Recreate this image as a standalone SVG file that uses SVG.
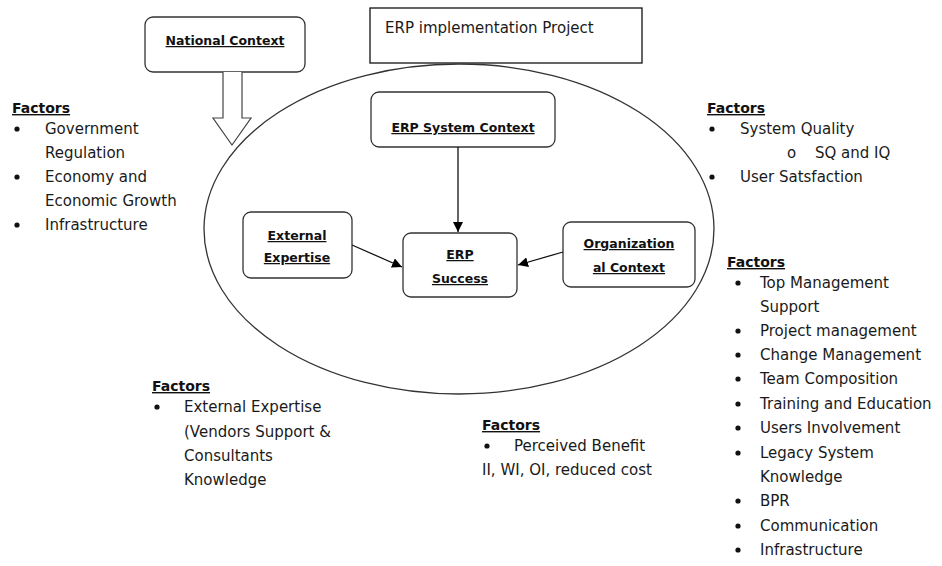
<svg xmlns="http://www.w3.org/2000/svg" width="942" height="566" viewBox="0 0 942 566">
<defs>
<marker id="ah" viewBox="0 0 10 10" refX="10" refY="5" markerWidth="10" markerHeight="10" markerUnits="userSpaceOnUse" orient="auto">
<path d="M0,0 L10,5 L0,10 z" fill="#000"/>
</marker>
<style>
.box{fill:#fff;stroke:#333;stroke-width:1.3}
.lbl{font-family:"DejaVu Sans",sans-serif;font-weight:bold;font-size:12.5px;text-decoration:underline;fill:#111;text-anchor:middle}
.t{font-family:"DejaVu Sans",sans-serif;font-size:15px;fill:#1a1a1a}
.h{font-family:"DejaVu Sans",sans-serif;font-weight:bold;font-size:14px;text-decoration:underline;fill:#111}
.b{fill:#111}
.con{stroke:#111;stroke-width:1.3;fill:none}
</style>
</defs>
<rect width="942" height="566" fill="#fff"/>

<g id="project-box">
<rect x="370" y="8" width="272" height="55" fill="#fff" stroke="#111" stroke-width="1.3"/>
<text class="t" x="385" y="33" font-size="13.5">ERP implementation Project</text>
</g>

<g id="ellipse">
<ellipse cx="459" cy="229" rx="255" ry="165" fill="none" stroke="#333" stroke-width="1.3"/>
</g>

<g id="national-context">
<rect class="box" x="145" y="17" width="160" height="55" rx="8"/>
<text class="lbl" x="225" y="45">National Context</text>
</g>

<g id="erp-system-context">
<rect class="box" x="371" y="92" width="184" height="55" rx="8"/>
<text class="lbl" x="463" y="132">ERP System Context</text>
</g>

<g id="external-expertise">
<rect class="box" x="243" y="212" width="109" height="66" rx="8"/>
<text class="lbl" x="297" y="240">External</text>
<text class="lbl" x="297" y="262">Expertise</text>
</g>

<g id="erp-success">
<rect class="box" x="403" y="233" width="114" height="64" rx="8"/>
<text class="lbl" x="460" y="259">ERP</text>
<text class="lbl" x="460" y="283">Success</text>
</g>

<g id="organizational-context">
<rect class="box" x="563" y="222" width="132" height="65" rx="8"/>
<text class="lbl" x="629" y="248">Organization</text>
<text class="lbl" x="629" y="272">al Context</text>
</g>

<g id="connectors">
<path d="M223,72 L223,118 L213,118 L232,145 L251,118 L242,118 L242,72" fill="#fff" stroke="#444" stroke-width="1.2"/>
<line class="con" x1="458" y1="147" x2="458" y2="232" marker-end="url(#ah)"/>
<line class="con" x1="352" y1="245" x2="402" y2="267" marker-end="url(#ah)"/>
<line class="con" x1="563" y1="252" x2="518" y2="265" marker-end="url(#ah)"/>
</g>

<g id="factors-national">
<text class="h" x="12" y="113">Factors</text>
<circle class="b" cx="17" cy="129" r="2.6"/>
<text class="t" x="45" y="134">Government</text>
<text class="t" x="45" y="158">Regulation</text>
<circle class="b" cx="17" cy="177" r="2.6"/>
<text class="t" x="45" y="182">Economy and</text>
<text class="t" x="45" y="206">Economic Growth</text>
<circle class="b" cx="17" cy="225" r="2.6"/>
<text class="t" x="45" y="230">Infrastructure</text>
</g>

<g id="factors-system">
<text class="h" x="707" y="113">Factors</text>
<circle class="b" cx="712" cy="129" r="2.6"/>
<text class="t" x="740" y="134">System Quality</text>
<text class="t" x="787" y="158">o</text>
<text class="t" x="815" y="158">SQ and IQ</text>
<circle class="b" cx="712" cy="177" r="2.6"/>
<text class="t" x="740" y="182">User Satsfaction</text>
</g>

<g id="factors-org">
<text class="h" x="727" y="267">Factors</text>
<circle class="b" cx="738" cy="283" r="2.6"/>
<text class="t" x="760" y="288">Top Management</text>
<text class="t" x="760" y="312">Support</text>
<circle class="b" cx="738" cy="331" r="2.6"/>
<text class="t" x="760" y="336">Project management</text>
<circle class="b" cx="738" cy="355" r="2.6"/>
<text class="t" x="760" y="360">Change Management</text>
<circle class="b" cx="738" cy="379" r="2.6"/>
<text class="t" x="760" y="384">Team Composition</text>
<circle class="b" cx="738" cy="404" r="2.6"/>
<text class="t" x="760" y="409">Training and Education</text>
<circle class="b" cx="738" cy="428" r="2.6"/>
<text class="t" x="760" y="433">Users Involvement</text>
<circle class="b" cx="738" cy="453" r="2.6"/>
<text class="t" x="760" y="458">Legacy System</text>
<text class="t" x="760" y="482">Knowledge</text>
<circle class="b" cx="738" cy="501" r="2.6"/>
<text class="t" x="760" y="506">BPR</text>
<circle class="b" cx="738" cy="526" r="2.6"/>
<text class="t" x="760" y="531">Communication</text>
<circle class="b" cx="738" cy="550" r="2.6"/>
<text class="t" x="760" y="555">Infrastructure</text>
</g>

<g id="factors-external">
<text class="h" x="152" y="391">Factors</text>
<circle class="b" cx="157" cy="407" r="2.6"/>
<text class="t" x="184" y="412">External Expertise</text>
<text class="t" x="184" y="437">(Vendors Support &amp;</text>
<text class="t" x="184" y="461">Consultants</text>
<text class="t" x="184" y="485">Knowledge</text>
</g>

<g id="factors-success">
<text class="h" x="482" y="430">Factors</text>
<circle class="b" cx="487" cy="446" r="2.6"/>
<text class="t" x="514" y="451">Perceived Benefit</text>
<text class="t" x="482" y="475">II, WI, OI, reduced cost</text>
</g>
</svg>
